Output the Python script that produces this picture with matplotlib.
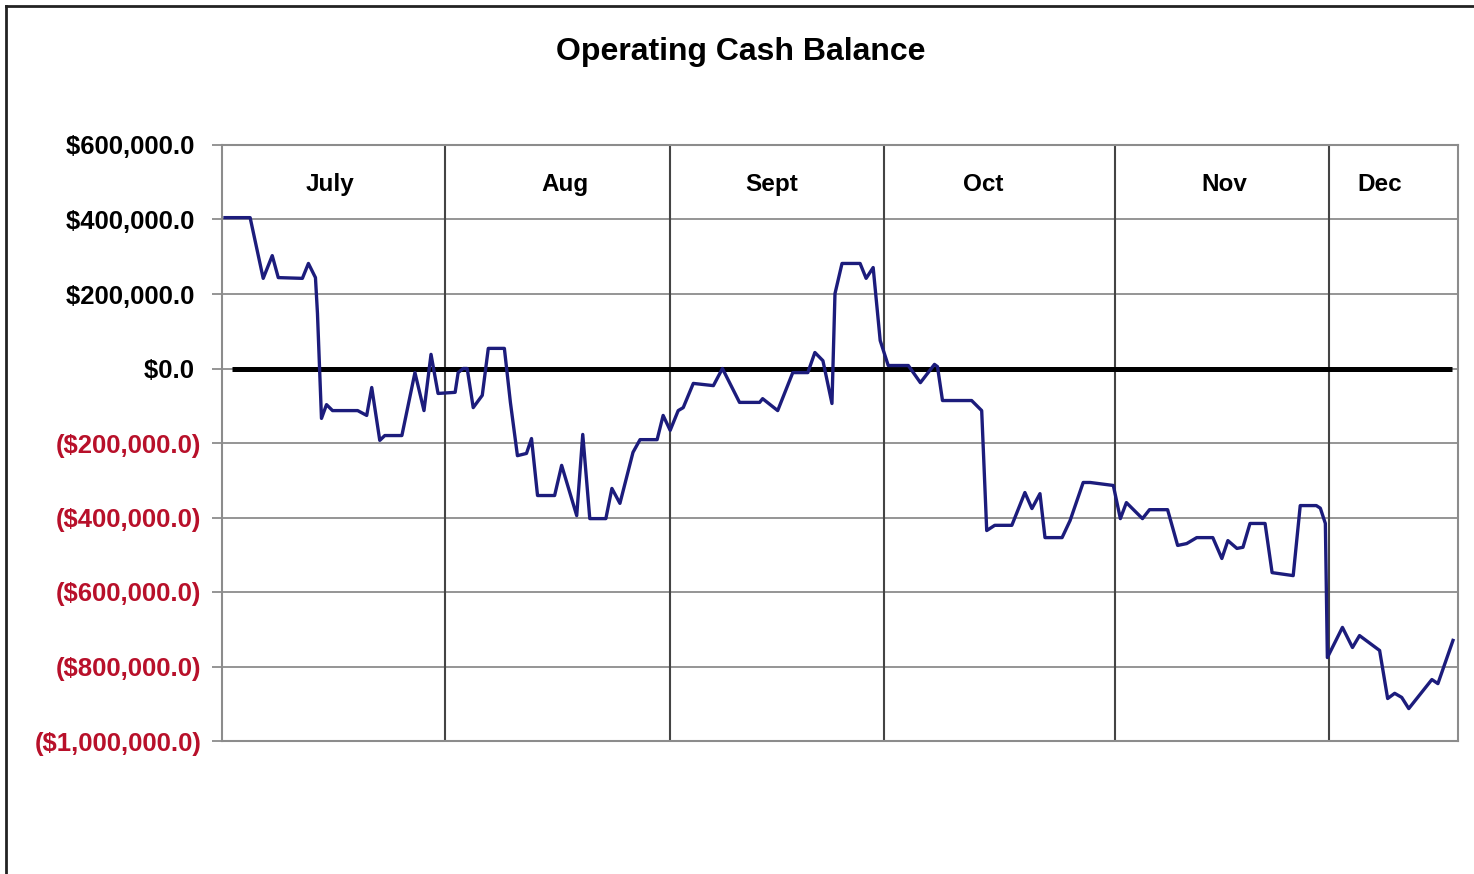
import matplotlib.pyplot as plt
from matplotlib.lines import Line2D
from matplotlib.ticker import FixedLocator, FuncFormatter

# business-day index (x) and operating cash balance in dollars (y)
day = [0.3, 2.8, 4.1, 5.0, 5.6, 8.0, 8.6, 9.3, 9.5, 9.9, 10.4, 11.0, 13.5, 14.4,
       14.9, 15.7, 16.2, 17.9, 19.2, 20.1, 20.8, 21.5, 23.2, 23.5, 24.0, 24.4,
       25.0, 25.9, 26.5, 28.1, 28.7, 29.4, 30.3, 30.8, 31.4, 33.1, 33.8, 35.3,
       35.9, 36.6, 38.2, 38.8, 39.6, 40.9, 41.6, 43.3, 43.9, 44.6, 45.4, 45.9,
       46.9, 48.9, 49.8, 51.5, 53.5, 53.8, 55.3, 56.8, 58.3, 59.0, 59.8, 60.7,
       61.0, 61.7, 63.5, 64.1, 64.8, 65.5, 66.3, 68.3, 69.5, 70.9, 71.2, 71.7,
       74.6, 75.6, 76.1, 76.9, 78.6, 79.9, 80.6, 81.4, 81.9, 83.6, 84.4, 85.7,
       86.4, 88.7, 89.4, 90.0, 91.6, 92.3, 94.1, 95.1, 96.0, 97.0, 98.6, 99.5,
       100.1, 101.0, 101.6, 102.3, 103.8, 104.5, 106.6, 107.3, 108.9, 109.3,
       109.8, 110.0, 111.5, 112.5, 113.2, 115.2, 116.0, 116.7, 117.4, 118.1,
       120.4, 121.0, 122.5]
balance = [405000, 405000, 242000, 303000, 244000, 242000, 282000, 244000,
           148000, -134000, -97000, -113000, -113000, -126000, -51000, -193000,
           -180000, -180000, -11000, -113000, 38000, -67000, -64000, -11000,
           0, 0, -105000, -72000, 54000, 54000, -91000, -234000, -228000,
           -188000, -341000, -341000, -260000, -395000, -177000, -403000,
           -403000, -322000, -362000, -225000, -191000, -191000, -126000,
           -166000, -113000, -105000, -40000, -46000, 0, -91000, -91000,
           -81000, -113000, -11000, -11000, 43000, 21000, -94000, 201000,
           282000, 282000, 242000, 271000, 75000, 8000, 8000, -38000, 11000,
           5000, -86000, -86000, -113000, -435000, -421000, -421000, -333000,
           -376000, -336000, -454000, -454000, -408000, -306000, -306000,
           -314000, -403000, -360000, -403000, -379000, -379000, -475000,
           -470000, -454000, -454000, -510000, -462000, -483000, -480000,
           -416000, -416000, -548000, -556000, -368000, -368000, -375000,
           -416000, -776000, -695000, -749000, -717000, -757000, -886000,
           -872000, -883000, -913000, -835000, -846000, -730000]

months = ["July", "Aug", "Sept", "Oct", "Nov", "Dec"]
month_starts = [22.2, 44.6, 65.9, 88.9, 110.2]
month_label_x = [10.7, 34.1, 54.7, 75.7, 99.7, 115.2]
y_ticks = [600000, 400000, 200000, 0, -200000, -400000, -600000, -800000, -1000000]

fig = plt.figure(figsize=(14.74, 8.74), dpi=100, facecolor="white")
ax = fig.add_axes([222 / 1474, 1 - 741 / 874, (1458 - 222) / 1474, (741 - 145) / 874])

font = ["Liberation Sans", "DejaVu Sans"]

ax.set_xlim(0, 123)
ax.set_ylim(-1000000, 600000)

# grid
for v in y_ticks:
    ax.axhline(v, color="#8c8c8c", lw=1.3, zorder=1)
for m in month_starts:
    ax.axvline(m, color="#444444", lw=1.5, zorder=1)

# zero line
ax.plot([1.0, 122.4], [0, 0], color="black", lw=3.6, zorder=2, solid_capstyle="butt")

# cash balance
ax.plot(day, balance, color="#1c1c7c", lw=2.4, zorder=3)

for sp in ax.spines.values():
    sp.set_color("#8c8c8c")
    sp.set_linewidth(1.5)

ax.set_xticks([])
ax.yaxis.set_major_locator(FixedLocator(y_ticks))


def money(v, pos):
    if v < 0:
        return "(${:,.1f})".format(-v)
    return "${:,.1f} ".format(v)


ax.yaxis.set_major_formatter(FuncFormatter(money))
ax.tick_params(axis="y", length=7, width=1.3, color="#8c8c8c", pad=8)
for lbl, v in zip(ax.get_yticklabels(), y_ticks):
    lbl.set_fontfamily(font)
    lbl.set_fontweight("bold")
    lbl.set_fontsize(18.5)
    lbl.set_color("#b8102a" if v < 0 else "black")

for name, x in zip(months, month_label_x):
    ax.text(x, 495000, name, ha="center", va="center", fontsize=17.5,
            fontweight="bold", family=font, color="black")

fig.text(741 / 1474, 1 - 52 / 874, "Operating Cash Balance", ha="center",
         va="center", fontsize=23, fontweight="bold", family=font)

# outer frame (left and top edges)
fig.add_artist(Line2D([6 / 1474, 6 / 1474], [0, 1 - 6 / 874], color="#222222", lw=2,
                      transform=fig.transFigure))
fig.add_artist(Line2D([6 / 1474, 1], [1 - 6 / 874, 1 - 6 / 874], color="#222222", lw=2,
                      transform=fig.transFigure))

fig.savefig("out.png", dpi=100, facecolor="white")
